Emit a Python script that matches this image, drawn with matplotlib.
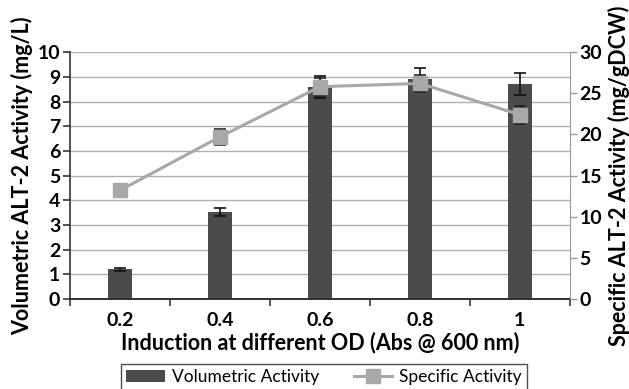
import matplotlib.pyplot as plt
import numpy as np

plt.rcParams['font.family'] = ['Lato', 'DejaVu Sans']

od_labels = ["0.2", "0.4", "0.6", "0.8", "1"]
volumetric = [1.2, 3.52, 8.6, 8.9, 8.7]
volumetric_err = [0.05, 0.17, 0.45, 0.45, 0.45]
specific = [13.2, 19.7, 25.8, 26.2, 22.4]
specific_err = [0.3, 1.0, 1.1, 1.0, 1.1]

BAR_COLOR = "#4b4b4b"
LINE_COLOR = "#a8a8a8"

fig = plt.figure(figsize=(6.29, 3.89), dpi=100)
ax = fig.add_axes([0.111, 0.231, 0.795, 0.635])
ax2 = ax.twinx()

x = np.arange(len(od_labels))

ax.set_axisbelow(True)
ax.grid(axis="y", color="#b0b0b0", lw=1.0)
ax.bar(x, volumetric, width=0.24, color=BAR_COLOR, zorder=2,
       label="Volumetric Activity")
ax.errorbar(x, volumetric, yerr=volumetric_err, fmt="none",
            ecolor="#111111", elinewidth=1.2, capsize=4, capthick=1.2, zorder=3)

ax2.plot(x, specific, color=LINE_COLOR, lw=2.2, marker="s", markersize=10,
         markerfacecolor=LINE_COLOR, markeredgecolor=LINE_COLOR,
         label="Specific Activity", zorder=4)
ax2.errorbar(x, specific, yerr=specific_err, fmt="none",
             ecolor="#222222", elinewidth=1.0, capsize=4, capthick=1.2, zorder=3)

ax.set_xlim(-0.5, 4.5)
ax.set_ylim(0, 10)
ax2.set_ylim(0, 30)
ax.set_yticks(range(0, 11))
ax2.set_yticks(range(0, 31, 5))

ax.set_xticks(x)
ax.set_xticklabels(od_labels)
ax.set_xticks(np.arange(-0.5, 4.6, 1), minor=True)
ax.tick_params(axis="x", which="major", length=0, pad=9)
ax.tick_params(axis="x", which="minor", length=5, width=1.2, color="#333333")
ax.tick_params(axis="y", length=5, width=1.2, color="#333333", pad=2)
ax2.tick_params(axis="y", length=5, width=1.0, color="#999999", pad=2)

for lab in ax.get_xticklabels() + ax.get_yticklabels() + ax2.get_yticklabels():
    lab.set_fontsize(14)
    lab.set_fontweight("bold")

ax.spines["top"].set_visible(False)
ax2.spines["top"].set_visible(False)
ax.spines["right"].set_visible(False)
ax2.spines["left"].set_visible(False)
ax2.spines["bottom"].set_visible(False)
ax.spines["left"].set_color("#333333")
ax.spines["left"].set_linewidth(1.2)
ax.spines["bottom"].set_color("#333333")
ax.spines["bottom"].set_linewidth(1.4)
ax2.spines["right"].set_color("#999999")

ax.set_xlabel("Induction at different OD (Abs @ 600 nm)", fontsize=15.5,
              fontweight="bold", labelpad=2)
ax.set_ylabel("Volumetric ALT-2 Activity (mg/L)", fontsize=15.5,
              fontweight="bold", labelpad=3)
ax2.set_ylabel("Specific ALT-2 Activity (mg/gDCW)", fontsize=15.5,
               fontweight="bold", labelpad=4)

h1, l1 = ax.get_legend_handles_labels()
h2, l2 = ax2.get_legend_handles_labels()
leg = fig.legend(h1 + h2, l1 + l2, loc="lower center", ncol=2,
                 bbox_to_anchor=(0.515, -0.025), fontsize=12.5, frameon=True,
                 fancybox=False, edgecolor="#222222", handlelength=2.2,
                 columnspacing=2.0, borderpad=0.3, handletextpad=0.4)
leg.get_frame().set_linewidth(1.0)

fig.savefig("out.png", dpi=100)
